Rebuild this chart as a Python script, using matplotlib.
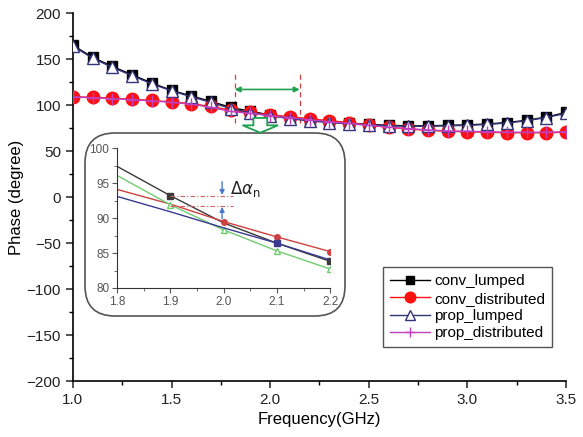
import matplotlib
matplotlib.use("Agg")
import matplotlib.pyplot as plt
from matplotlib.patches import FancyBboxPatch, FancyArrow

plt.rcParams["font.family"] = ["Liberation Sans", "DejaVu Sans"]

# ---------------------------------------------------------------------------
# Data
# ---------------------------------------------------------------------------
freq = [1.0, 1.1, 1.2, 1.3, 1.4, 1.5, 1.6, 1.7, 1.8, 1.9, 2.0, 2.1, 2.2,
        2.3, 2.4, 2.5, 2.6, 2.7, 2.8, 2.9, 3.0, 3.1, 3.2, 3.3, 3.4, 3.5]

conv_lumped = [165, 152, 142, 133, 124, 116, 110, 104, 97.5, 93.3, 89.3, 86.3, 83.7,
               82, 80.5, 79, 78, 77.5, 77.5, 78, 78.5, 79.5, 81, 83.5, 87, 92]
conv_distributed = [109, 108.5, 107.5, 106.5, 105, 103.5, 101.5, 98.5, 94.3, 92, 89.5, 87.3, 85.2,
                    83, 81, 78, 76, 74, 72.5, 71.5, 71, 70.5, 70, 70, 70, 70.5]
prop_lumped = [164, 151, 141, 132, 123, 115.5, 109, 103, 96.1, 91.9, 88.3, 85.3, 82.7,
               81, 79.5, 78.5, 77.5, 77, 77, 77.5, 78, 79, 80.5, 83, 86.5, 91]
prop_distributed = [109, 108, 107, 106, 104.5, 103, 101, 97.5, 93.1, 90.9, 88.6, 86.4, 84,
                    82, 80, 78, 76, 74.5, 73, 72, 71.5, 71, 70.5, 70.5, 70.5, 71]

# zoomed window 1.8 - 2.2 GHz
inset_freq = [1.8, 1.9, 2.0, 2.1, 2.2]
inset_black = [97.4, 93.2, 89.3, 86.4, 83.8]
inset_red = [94.1, 92.0, 89.5, 87.3, 85.2]
inset_green = [96.1, 91.9, 88.3, 85.3, 82.7]
inset_navy = [93.1, 90.9, 88.6, 86.4, 84.0]

# ---------------------------------------------------------------------------
# Figure
# ---------------------------------------------------------------------------
fig = plt.figure(figsize=(5.83, 4.37), dpi=100)
ax = fig.add_axes([0.125, 0.128, 0.846, 0.842])

ax.plot(freq, conv_lumped, color="black", lw=1.0, marker="s", ms=6.5,
        mfc="black", mec="black", label="conv_lumped", zorder=3)
ax.plot(freq, conv_distributed, color="#ff1010", lw=1.0, marker="o", ms=9,
        mfc="#ff1010", mec="#ff1010", label="conv_distributed", zorder=3)
ax.plot(freq, prop_lumped, color="#34347a", lw=1.0, marker="^", ms=9,
        mfc="white", mec="#34347a", label="prop_lumped", zorder=4)
ax.plot(freq, prop_distributed, color="#c040c0", lw=1.0, marker="+", ms=9,
        mec="#c040c0", label="prop_distributed", zorder=5)

ax.set_xlim(1.0, 3.5)
ax.set_ylim(-200, 200)
ax.set_xticks([1.0, 1.5, 2.0, 2.5, 3.0, 3.5])
ax.set_xticks([1.25, 1.75, 2.25, 2.75, 3.25], minor=True)
ax.set_yticks(range(-200, 201, 50))
ax.set_yticks(range(-175, 200, 50), minor=True)
ax.set_xticklabels(["1.0", "1.5", "2.0", "2.5", "3.0", "3.5"])
ax.tick_params(which="major", direction="out", length=5, width=1.1, labelsize=11, colors="#222222")
ax.tick_params(which="minor", direction="out", length=3, width=1.0)
for side in ("top", "right"):
    ax.spines[side].set_visible(False)
for side in ("left", "bottom"):
    ax.spines[side].set_linewidth(1.2)
ax.set_xlabel("Frequency(GHz)", fontsize=12, labelpad=4)
ax.set_ylabel("Phase (degree)", fontsize=12, labelpad=2)

leg = ax.legend(loc="lower right", bbox_to_anchor=(0.972, 0.092), fontsize=11,
                frameon=True, fancybox=False, edgecolor="#555555", framealpha=1,
                handlelength=2.6, labelspacing=0.22, borderpad=0.45,
                handletextpad=0.3, borderaxespad=0, markerscale=0.85)
leg.get_frame().set_linewidth(1.0)

# window markers above the curves
ax.vlines([1.82, 2.15], 80, 135, colors="#d04040", linestyles=(0, (4, 3)), lw=0.9)
ax.annotate("", xy=(1.82, 117), xytext=(2.15, 117),
            arrowprops=dict(arrowstyle="<|-|>", color="#20a050", lw=1.2,
                            mutation_scale=8, shrinkA=0, shrinkB=0))
ax.add_patch(FancyArrow(1.95, 86, 0, -16, width=0.07, head_width=0.18,
                        head_length=8, length_includes_head=True,
                        fc="white", ec="#20a050", lw=1.3, zorder=6))

# rounded frame around the zoom panel (inch coordinates)
ax.add_patch(FancyBboxPatch((0.85, 1.21), 2.6, 1.83,
                            boxstyle="round,pad=0,rounding_size=0.3",
                            transform=fig.dpi_scale_trans, fc="white",
                            ec="#555555", lw=1.2, clip_on=False, zorder=2))

# ---------------------------------------------------------------------------
# Inset
# ---------------------------------------------------------------------------
axin = fig.add_axes([0.2007, 0.341, 0.366, 0.320])
axin.set_zorder(3)
axin.patch.set_alpha(0)
axin.plot(inset_freq, inset_black, color="#3a3a3a", lw=1.0, marker="s", ms=4,
          markevery=[1, 4])
axin.plot(inset_freq, inset_red, color="#d04040", lw=1.0, marker="o", ms=4,
          markevery=[2, 3, 4])
axin.plot(inset_freq, inset_green, color="#70cc70", lw=1.0, marker="^", ms=4,
          mfc="white", markevery=[1, 2, 3, 4])
axin.plot(inset_freq, inset_navy, color="#3a3a90", lw=1.0, marker="s", ms=4,
          markevery=[3])
axin.set_xlim(1.8, 2.2)
axin.set_ylim(80, 100)
axin.set_xticks(inset_freq)
axin.set_xticklabels(["1.8", "1.9", "2.0", "2.1", "2.2"])
axin.set_xticks([1.85, 1.95, 2.05, 2.15], minor=True)
axin.set_yticks([80, 85, 90, 95, 100])
axin.set_yticks([82.5, 87.5, 92.5, 97.5], minor=True)
axin.tick_params(which="major", direction="out", length=3.5, labelsize=8.5,
                 colors="#555555", pad=2)
axin.tick_params(which="minor", direction="out", length=2, colors="#555555")
for side in ("top", "right"):
    axin.spines[side].set_visible(False)
for side in ("left", "bottom"):
    axin.spines[side].set_color("#333333")

axin.hlines([93.2, 91.7], 1.9, 2.017, colors="#d06060",
            linestyles=(0, (4, 2, 1, 2)), lw=0.8)
axin.annotate("", xy=(1.997, 93.3), xytext=(1.997, 95.2),
              arrowprops=dict(arrowstyle="-|>", color="#4a7ad0", lw=1.0,
                              mutation_scale=7, shrinkA=0, shrinkB=0))
axin.annotate("", xy=(1.997, 91.6), xytext=(1.997, 89.9),
              arrowprops=dict(arrowstyle="-|>", color="#4a7ad0", lw=1.0,
                              mutation_scale=7, shrinkA=0, shrinkB=0))
axin.text(2.012, 94.2, r"$\Delta\alpha_\mathrm{n}$", fontsize=12, color="#222222",
          va="center", ha="left")

fig.savefig("out.png", dpi=100)
